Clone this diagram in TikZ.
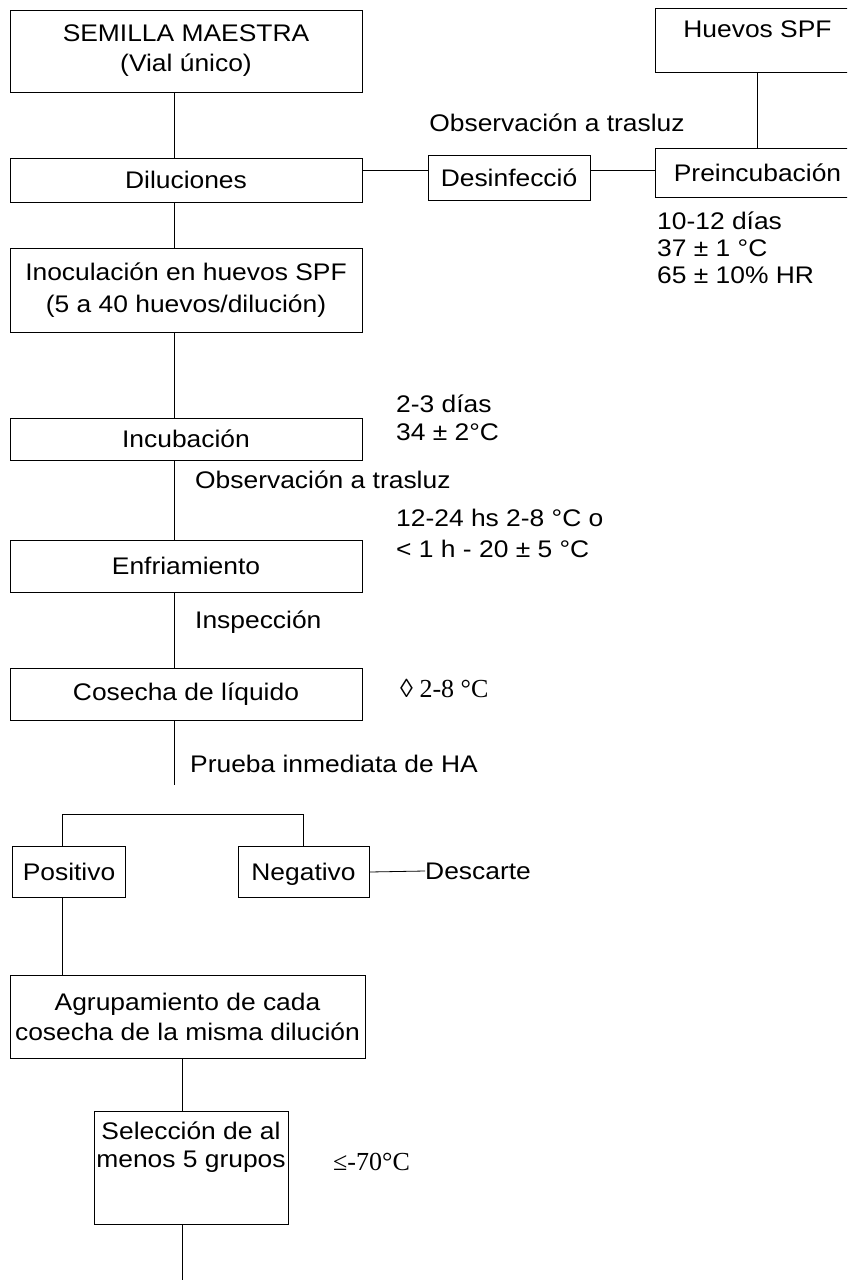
\documentclass[tikz,border=0pt]{standalone}
\usepackage{fontspec}
\setmainfont[FakeStretch=1.1]{Liberation Sans}
\newfontfamily\serifnote{Liberation Serif}
\usetikzlibrary{positioning}

\begin{document}
\begin{tikzpicture}[
    x=1pt, y=-1pt,
    every node/.style={font=\fontsize{24}{30}\selectfont},
    box/.style={draw, line width=0.8pt, align=center, inner sep=0pt},
    note/.style={anchor=west, inner sep=0pt, align=left},
    link/.style={line width=0.8pt},
  ]
  \path[use as bounding box] (0,0) rectangle (847,1280);
  \clip (0,0) rectangle (847,1280);

  % -- main column --
  \node[box, minimum width=352pt, minimum height=82pt] (sem) at (186,51) {SEMILLA MAESTRA\\(Vial único)};
  \node[box, minimum width=352pt, minimum height=44pt] (dil) at (186,180) {Diluciones};
  \node[box, minimum width=352pt, minimum height=84pt] (ino) at (186,290) {Inoculación en huevos SPF\\[2pt](5 a 40 huevos/dilución)};
  \node[box, minimum width=352pt, minimum height=42pt] (inc) at (186,439) {Incubación};
  \node[box, minimum width=352pt, minimum height=52pt] (enf) at (186,566) {Enfriamiento};
  \node[box, minimum width=352pt, minimum height=52pt] (cos) at (186,694) {Cosecha de líquido};
  \coordinate (ha) at (174,785);

  % -- eggs branch --
  \node[box, minimum width=205pt, minimum height=64pt,
        label={[anchor=north, yshift=-13pt, inner sep=0pt]north:Huevos SPF}] (hue) at (757.5,40) {};
  \node[box, minimum width=205pt, minimum height=49pt] (pre) at (757.5,172.5) {Preincubación};
  \node[box, minimum width=162pt, minimum height=45pt] (des) at (509,177.5) {Desinfecció};

  \draw[link] (hue.south) -- (pre.north);
  \draw[link] ([yshift=2.5pt]pre.west) -- ([yshift=7.5pt]des.east);
  \draw[link] ([yshift=7.5pt]des.west) -- ([yshift=10pt]dil.east);

  \node[anchor=center, inner sep=0pt] (obs1) at (557,123) {Observación a trasluz};
  \node[note, font=\fontsize{24}{27}\selectfont] (pren) at (657,248) {10-12 días\\37 ± 1 °C\\65 ± 10\% HR};

  % -- spine --
  \foreach \a/\b in {sem/dil, dil/ino, ino/inc, inc/enf, enf/cos}
    \draw[link] ([xshift=-12pt]\a.south) -- ([xshift=-12pt]\b.north);
  \draw[link] ([xshift=-12pt]cos.south) -- (ha);

  \node[note, font=\fontsize{24}{28}\selectfont] (incn) at (396,418) {2-3 días\\34 ± 2°C};
  \node[note] (obs2) at (195,480) {Observación a trasluz};
  \node[note, font=\fontsize{24}{31}\selectfont] (enfn) at (396,533) {12-24 hs 2-8 °C o\\< 1 h - 20 ± 5 °C};
  \node[note] (insp) at (195,622) {Inspección};
  \node[note, font=\serifnote\fontsize{26}{31}\selectfont] (cosn) at (400,688) {◊ 2-8 °C};
  \node[note] (prue) at (190,764) {Prueba inmediata de HA};

  % -- HA result --
  \node[box, minimum width=113pt, minimum height=51pt, text depth=0pt] (pos) at (69,872) {Positivo};
  \node[box, minimum width=131pt, minimum height=51pt, text depth=0pt] (neg) at (303.5,872) {Negativo};
  \node[note] (dsc) at (425,871) {Descarte};
  \draw[link] ([xshift=-7pt]pos.north) -- ++(0,-32) -| (neg.north);
  \draw[link] (neg.east) -- (dsc.west);

  % -- pooling and selection --
  \node[box, minimum width=355pt, minimum height=83pt] (agr) at (187.5,1016.5) {Agrupamiento de cada\\cosecha de la misma dilución};
  \node[box, minimum width=194pt, minimum height=113pt,
        label={[anchor=north, yshift=-11pt, inner sep=0pt, align=center,
                font=\fontsize{24}{28}\selectfont]north:Selección de al\\menos 5 grupos}] (sel) at (191,1167.5) {};
  \node[note, font=\serifnote\fontsize{26}{31}\selectfont] (seln) at (333,1162) {≤-70°C};
  \coordinate (fin) at (182,1280);

  \draw[link] ([xshift=-7pt]pos.south) -- ([xshift=-7pt]pos.south |- agr.north);
  \draw[link] ([xshift=-5pt]agr.south) -- ([xshift=-5pt]agr.south |- sel.north);
  \draw[link] ([xshift=-9pt]sel.south) -- (fin);
\end{tikzpicture}
\end{document}
